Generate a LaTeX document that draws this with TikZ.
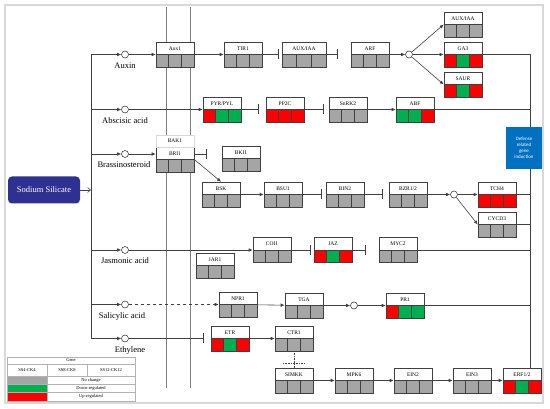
\documentclass[tikz,border=0pt]{standalone}
\usepackage{fontspec}
\setmainfont{Liberation Serif}
\newfontfamily\calibri{Carlito}
\usetikzlibrary{positioning,arrows.meta,calc}
\definecolor{cNavy}{HTML}{2E3192}
\definecolor{cBlue}{HTML}{0070C0}
\definecolor{cRed}{HTML}{FF0000}
\definecolor{cGreen}{HTML}{00B050}
\definecolor{cGray}{HTML}{A5A5A5}
\definecolor{cLine}{HTML}{404040}
\definecolor{cFrame}{HTML}{D9D9D9}
% gene box: [width]{name}{x}{y}{label}{cell 1}{cell 2}{cell 3}
\newcommand{\gene}[8][38]{%
  \begin{scope}[shift={(#3,#4)}]
    \fill[white] (0,0) rectangle (#1,25);
    \foreach \col [count=\i from 0] in {#6,#7,#8}
      \filldraw[fill=\col,draw=cLine,line width=0.5pt] (\i*#1/3,12.5) rectangle ({(\i+1)*#1/3},25);
    \node[genelabel] at (#1/2,6.5) {#5};
    \node[genebox,minimum width=#1pt] (#2) at (#1/2,12.5) {};
  \end{scope}}

\begin{document}
\begin{tikzpicture}[x=1pt,y=-1pt,
    genebox/.style={draw=cLine,line width=0.6pt,rectangle,minimum height=25pt,inner sep=0pt},
    genelabel/.style={inner sep=0pt,font=\fontsize{5.5}{6}\selectfont},
    hub/.style={circle,draw=cLine,fill=white,line width=0.6pt,minimum size=7pt,inner sep=0pt},
    hormone/.style={font=\fontsize{8.5}{9}\selectfont,inner sep=0pt},
    link/.style={draw=cLine,line width=0.6pt},
    act/.style={link,-{Latex[length=4pt,width=3.5pt]}},
    inh/.style={link,-{Bar[width=10pt,line width=0.8pt]}},
    membrane/.style={draw=gray,line width=1pt},
    legendtext/.style={inner sep=0pt,font=\fontsize{4.5}{5}\selectfont}]
  \useasboundingbox (0,0) rectangle (550,409);
  \draw[cFrame,line width=1.5pt] (5,5) rectangle (543,403);

  % membranes
  \draw[membrane] (166,7) -- (166,388);
  \draw[membrane] (190,7) -- (190,388);

  % signal and hormones
  \node[fill=cNavy,text=white,rounded corners=4pt,minimum width=72pt,minimum height=27pt,
        font=\fontsize{8.5}{10}\selectfont] (ss) at (44,190) {Sodium Silicate};
  \coordinate (trunkTop) at (91,54.5);
  \coordinate (trunkBot) at (91,338.5);
  \draw[link] (trunkTop) -- (trunkBot);
  \draw[link,-{Straight Barb[length=3pt,width=5pt]}] (ss) -- (ss -| trunkTop);

  \node[hub] (cAux) at (125,54.5) {};
  \node[hub] (cAba) at (125,109.5) {};
  \node[hub] (cBra) at (125,154) {};
  \node[hub] (cJas) at (125,250) {};
  \node[hub] (cSal) at (125,304.5) {};
  \node[hub] (cEth) at (125,338.5) {};
  \node[hormone,below=4pt of cAux] {Auxin};
  \node[hormone,below=4pt of cAba] {Abscisic acid};
  \node[hormone,below=4pt of cBra,xshift=-1pt] {Brassinosteroid};
  \node[hormone,below=4pt of cJas] {Jasmonic acid};
  \node[hormone,below=4pt of cSal,xshift=-3pt] {Salicylic acid};
  \node[hormone,below=4pt of cEth,xshift=5pt] {Ethylene};
  \foreach \h in {cAux,cAba,cBra,cJas,cSal,cEth}
    \draw[act] (\h -| trunkTop) -- (\h);

  % genes
  \gene{aux1}{156}{42}{Aux1}{cGray}{cGray}{cGray}
  \gene{tir1}{224}{42}{TIR1}{cGray}{cGray}{cGray}
  \gene[44]{auxiaa}{282}{42}{AUX/IAA}{cGray}{cGray}{cGray}
  \gene{arf}{351}{42}{ARF}{cGray}{cGray}{cGray}
  \gene{auxiaaB}{444}{12}{AUX/IAA}{cGray}{cGray}{cGray}
  \gene{ga3}{444}{42}{GA3}{cRed}{cGreen}{cRed}
  \gene{saur}{444}{72}{SAUR}{cRed}{cGreen}{cRed}
  \gene{pyr}{203}{97}{PYR/PYL}{cRed}{cGreen}{cGreen}
  \gene{pp2c}{266}{97}{PP2C}{cRed}{cRed}{cRed}
  \gene{snrk2}{329}{97}{SnRK2}{cGray}{cGray}{cGray}
  \gene{abf}{396}{97}{ABF}{cGreen}{cGreen}{cRed}
  \gene{bri1}{156}{147}{BRI1}{cGray}{cGray}{cGray}
  \node[draw=cFrame,fill=white,line width=0.6pt,minimum width=38pt,minimum height=12pt,
        inner sep=0pt,font=\fontsize{5.5}{6}\selectfont] (bak1) at (175,141) {BAK1};
  \gene{bki1}{222}{146}{BKI1}{cGray}{cGray}{cGray}
  \gene{bsk}{202}{182}{BSK}{cGray}{cGray}{cGray}
  \gene{bsu1}{264}{182}{BSU1}{cGray}{cGray}{cGray}
  \gene{bin2}{326}{182}{BIN2}{cGray}{cGray}{cGray}
  \gene{bzr}{389}{182}{BZR1/2}{cGray}{cGray}{cGray}
  \gene{tch4}{478}{182}{TCH4}{cRed}{cRed}{cRed}
  \gene{cycd3}{478}{212}{CYCD3}{cGray}{cGray}{cGray}
  \gene{coi1}{253}{237.5}{COI1}{cGray}{cGray}{cGray}
  \gene{jar1}{196}{253}{JAR1}{cGray}{cGray}{cGray}
  \gene{jaz}{314}{237.5}{JAZ}{cRed}{cGreen}{cRed}
  \gene{myc2}{379}{237.5}{MYC2}{cGray}{cGray}{cGray}
  \gene{npr1}{219}{292}{NPR1}{cGray}{cGray}{cGray}
  \gene{tga}{285}{293}{TGA}{cGray}{cGray}{cGray}
  \gene{pr1}{386}{293}{PR1}{cRed}{cGreen}{cGreen}
  \gene{etr}{211}{326}{ETR}{cRed}{cGreen}{cRed}
  \gene{ctr1}{275}{326}{CTR1}{cGray}{cGray}{cGray}
  \gene{simkk}{275}{368}{SIMKK}{cGray}{cGray}{cGray}
  \gene{mpk6}{335}{368}{MPK6}{cGray}{cGray}{cGray}
  \gene{ein2}{394}{368}{EIN2}{cGray}{cGray}{cGray}
  \gene{ein3}{453}{368}{EIN3}{cGray}{cGray}{cGray}
  \gene{erf}{503}{368}{ERF1/2}{cRed}{cGreen}{cRed}

  \node[hub] (cArf) at (409,54.5) {};
  \node[hub] (cBzr) at (454,194.5) {};
  \node[hub] (cTga) at (354,305.5) {};

  % auxin
  \draw[act] (cAux) -- (aux1);
  \draw[act] (aux1) -- (tir1);
  \draw[inh,shorten >=3pt] (tir1) -- (auxiaa);
  \draw[inh,shorten >=13pt] (auxiaa) -- (arf);
  \draw[act] (arf) -- (cArf);
  \draw[act] (cArf) -- (auxiaaB.west);
  \draw[act] (cArf) -- (ga3.west);
  \draw[act] (cArf) -- (saur.west);
  % abscisic acid
  \draw[act] (cAba) -- (pyr);
  \draw[inh,shorten >=7pt] (pyr) -- (pp2c);
  \draw[inh,shorten >=5pt] (pp2c) -- (snrk2);
  \draw[act] (snrk2) -- (abf);
  % brassinosteroid
  \draw[act] (cBra) -- (cBra -| bri1.west);
  \draw[inh,shorten >=15pt] (cBra -| bri1.east) -- (cBra -| bki1.west);
  \draw[act] (bri1.east) -- (bsk.north);
  \draw[act] (bsk) -- (bsu1);
  \draw[inh,shorten >=4pt] (bsu1) -- (bin2);
  \draw[inh,shorten >=6pt] (bin2) -- (bzr);
  \draw[act] (bzr) -- (cBzr);
  \draw[act] (cBzr) -- (tch4);
  \draw[act] (cBzr) -- (cycd3.west);
  % jasmonic acid
  \draw[act] (cJas) -- (coi1);
  \draw[inh,shorten >=3pt] (coi1) -- (jaz);
  \draw[inh,shorten >=13pt] (jaz) -- (myc2);
  % salicylic acid
  \draw[act,dashed] (cSal) -- (npr1);
  \draw[act] (npr1) -- (tga);
  \draw[act] (tga) -- (cTga);
  \draw[act] (cTga) -- (pr1);
  % ethylene
  \draw[inh,shorten >=7pt] (cEth) -- (etr);
  \draw[act] (etr) -- (ctr1);
  \draw[link,densely dotted] (ctr1) -- (simkk);
  \draw[link,densely dotted] ($(simkk.north)+(-11,-4)$) -- ($(simkk.north)+(11,-4)$);
  \draw[act] (simkk) -- (mpk6);
  \draw[act] (mpk6) -- (ein2);
  \draw[act] (ein2) -- (ein3);
  \draw[act] (ein3) -- (erf);

  % outputs
  \coordinate (rail) at (530,54.5);
  \draw[link] (ga3.east) -- (rail) -- (rail |- erf.north);
  \foreach \g in {abf,tch4,cycd3,myc2,pr1}
    \draw[link] (\g.east) -- (\g.east -| rail);
  \node[fill=cBlue,text=white,align=center,minimum width=36pt,minimum height=42pt,inner sep=1pt,
        font=\calibri\fontsize{5}{6}\selectfont] (defense) at (524,148)
        {Defense\\related\\gene\\induction};

  % legend
  \begin{scope}[draw=gray!60,line width=0.4pt]
    \fill[cGray] (7,376) rectangle (47,384);
    \fill[cGreen] (7,384) rectangle (47,392);
    \fill[cRed] (7,392) rectangle (47,401);
    \draw (7,357) rectangle (135,401);
    \foreach \yy in {364,376,384,392} \draw (7,\yy) -- (135,\yy);
    \draw (47,364) -- (47,401);
    \draw (87,364) -- (87,376);
  \end{scope}
  \node[legendtext] at (71,360.5) {Gene};
  \node[legendtext] at (27,370) {SS4-CK4};
  \node[legendtext] at (67,370) {SS8-CK8};
  \node[legendtext] at (111,370) {SS12-CK12};
  \node[legendtext] at (91,380) {No change};
  \node[legendtext] at (91,388) {Down-regulated};
  \node[legendtext] at (91,396.5) {Up-regulated};
\end{tikzpicture}
\end{document}
